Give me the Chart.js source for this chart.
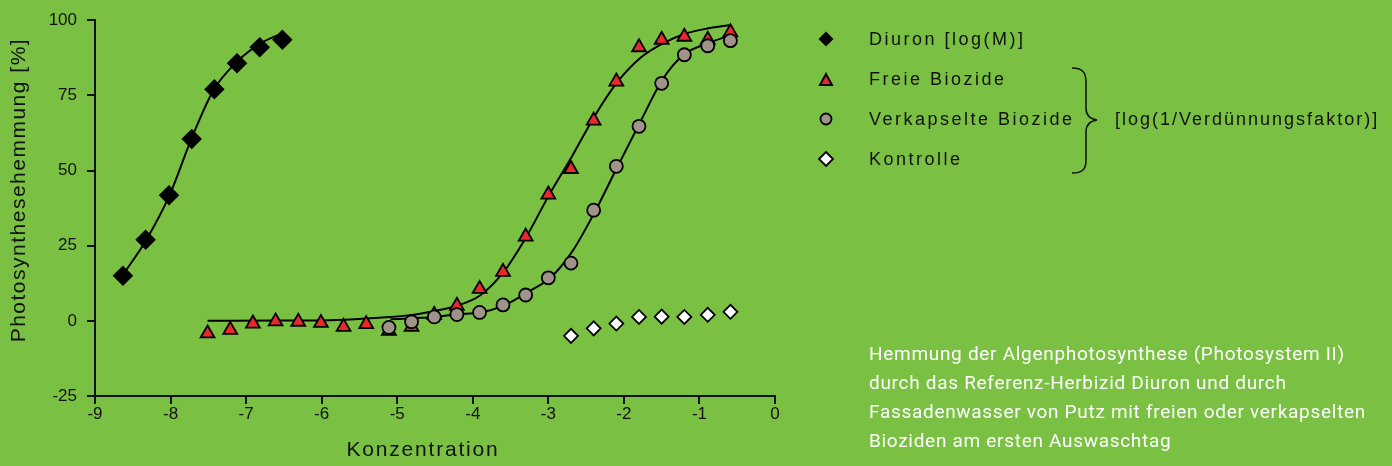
<!DOCTYPE html>
<html><head><meta charset="utf-8">
<script src="https://cdn.jsdelivr.net/npm/chart.js@4/dist/chart.umd.min.js"></script>
<style>
html,body{margin:0;padding:0;background:#7ac143;width:1392px;height:466px;overflow:hidden;}
#wrap{position:relative;width:1392px;height:466px;}
#c{position:absolute;left:0;top:0;}
.lg{position:absolute;left:869px;font-family:"Liberation Sans",Arial,sans-serif;font-size:18px;letter-spacing:2.5px;color:#111;line-height:20px;white-space:nowrap;}
.mk{position:absolute;}
.cap{position:absolute;left:869px;font-family:Roboto,sans-serif;font-size:19px;letter-spacing:0.7px;color:#fff;line-height:29px;white-space:nowrap;}
</style></head>
<body>
<div id="wrap">
<canvas id="c" width="1392" height="466"></canvas>
<svg class="mk" style="left:816px;top:29px" width="20" height="20"><polygon points="10,2.5 17.5,10 10,17.5 2.5,10" fill="#000"/></svg>
<div class="lg" style="top:29px">Diuron [log(M)]</div>
<svg class="mk" style="left:816px;top:70px" width="20" height="20"><polygon points="10,4 16,15 4,15" fill="#e8282b" stroke="#000" stroke-width="2" stroke-linejoin="miter"/></svg>
<div class="lg" style="top:69px">Freie Biozide</div>
<svg class="mk" style="left:816px;top:109px" width="20" height="20"><circle cx="10" cy="10" r="5.5" fill="#a0948a" stroke="#000" stroke-width="1.8"/></svg>
<div class="lg" style="top:109px">Verkapselte Biozide</div>
<svg class="mk" style="left:816px;top:149px" width="20" height="20"><polygon points="10,3 17,10 10,17 3,10" fill="#fff" stroke="#000" stroke-width="1.8"/></svg>
<div class="lg" style="top:149px">Kontrolle</div>
<svg class="mk" style="left:1066px;top:64px" width="40" height="114"><path d="M6,4 C16,4 20,8 20,18 L20,44 C20,52 24,55 31,56 C24,57 20,60 20,68 L20,96 C20,106 16,109 6,109" fill="none" stroke="#111" stroke-width="1.5"/></svg>
<div class="lg" style="left:1115px;top:109px;letter-spacing:2px">[log(1/Verdünnungsfaktor)]</div>
<div class="cap" style="top:339px">Hemmung der Algenphotosynthese (Photosystem II)</div>
<div class="cap" style="top:368px">durch das Referenz-Herbizid Diuron und durch</div>
<div class="cap" style="top:397px">Fassadenwasser von Putz mit freien oder verkapselten</div>
<div class="cap" style="top:426px">Bioziden am ersten Auswaschtag</div>
</div>
<script>
// ---- data ----
const xTicks = [-9, -8, -7, -6, -5, -4, -3, -2, -1, 0];
const yTicks = [-25, 0, 25, 50, 75, 100];

const diuronX = [-8.63, -8.33, -8.02, -7.72, -7.42, -7.12, -6.82, -6.52];
const diuronY = [15, 27, 41.8, 60.5, 77, 85.7, 91, 93.5];

const freieX = [-7.51, -7.21, -6.91, -6.61, -6.31, -6.01, -5.71, -5.41, -5.11, -4.81, -4.51, -4.21, -3.91, -3.60, -3.30, -3.00, -2.70, -2.40, -2.10, -1.80, -1.50, -1.20, -0.89, -0.59];
const freieY = [-4.2, -3, -0.9, -0.2, -0.3, -0.7, -2, -1.1, -3.3, -2, 2, 5, 10.6, 16.3, 28, 42, 50.5, 66.6, 79.6, 91, 93.5, 94.5, 93.5, 96];

const verkX = [-5.11, -4.81, -4.51, -4.21, -3.91, -3.60, -3.30, -3.00, -2.70, -2.40, -2.10, -1.80, -1.50, -1.20, -0.89, -0.59];
const verkY = [-2.2, -0.3, 1.3, 2.1, 2.8, 5.3, 8.6, 14.3, 19.2, 36.8, 51.4, 64.7, 79, 88.5, 91.5, 93.2];

const kontrX = [-2.70, -2.40, -2.10, -1.80, -1.50, -1.20, -0.89, -0.59];
const kontrY = [-5, -2.5, -0.9, 1.3, 1.4, 1.3, 2, 3];

// fitted curves
const diuronCurveX = [-8.63, -8.32, -8.01, -7.72, -7.43, -7.12, -6.81, -6.51];
const diuronCurveY = [15.3, 27, 42, 60.8, 76.8, 86.2, 92.3, 95.8];

const freieCurveX = [-7.51, -6.5, -5.89, -5.40, -4.83, -4.50, -4.21, -3.90, -3.60, -3.29, -3.00, -2.68, -2.39, -2.09, -1.78, -1.49, -1.19, -0.88, -0.59];
const freieCurveY = [0, 0.1, 0.2, 0.8, 1.9, 3.3, 5, 8.5, 16, 28, 41.4, 55, 68, 79.3, 87.5, 92.2, 95.5, 97.3, 98.4];

const verkCurveX = [-5.09, -4.79, -4.50, -4.21, -3.90, -3.60, -3.24, -2.97, -2.68, -2.40, -2.09, -1.78, -1.49, -1.21, -0.89, -0.59];
const verkCurveY = [0.5, 0.9, 1.3, 2.2, 2.8, 5, 10, 14.4, 23.2, 35.5, 51, 66.3, 80.2, 88.5, 92.3, 95];

const xy = (xs, ys) => xs.map((x, i) => ({x, y: ys[i]}));

const pointSet = (label, xs, ys, style, radius, fill, order) => ({
  label, data: xy(xs, ys), showLine: false, pointStyle: style, pointRadius: radius,
  pointHoverRadius: radius, backgroundColor: fill, borderColor: '#000', pointBorderWidth: 1.8, order
});
const curveSet = (label, xs, ys) => ({
  label, data: xy(xs, ys), showLine: true, pointRadius: 0, borderColor: '#000', borderWidth: 2,
  cubicInterpolationMode: 'monotone', fill: false, order: 10
});

const titleTweak = {
  id: 'titleTweak',
  beforeDraw(chart) {
    const cfg = {x: [-12, 0, '1.8px'], y: [0, -18, '1.5px']};
    for (const id of Object.keys(cfg)) {
      const s = chart.scales[id];
      if (s && !s._tw) {
        const orig = s.drawTitle;
        const [dx, dy, ls] = cfg[id];
        s.drawTitle = function () {
          const c = this.ctx; c.save(); c.translate(dx, dy);
          try { c.letterSpacing = ls; } catch (e) {}
          orig.call(this); c.restore();
        };
        s._tw = true;
      }
    }
  }
};

Chart.defaults.font.family = '"Liberation Sans", Arial, sans-serif';
Chart.defaults.font.size = 17;
Chart.defaults.color = '#111';

new Chart(document.getElementById('c'), {
  type: 'scatter',
  data: {
    datasets: [
      pointSet('Kontrolle', kontrX, kontrY, 'rectRot', 7, '#ffffff', 1),
      pointSet('Verkapselte Biozide', verkX, verkY, 'circle', 6.5, '#a0948a', 2),
      pointSet('Freie Biozide', freieX, freieY, 'triangle', 8, '#e8282b', 3),
      pointSet('Diuron [log(M)]', diuronX, diuronY, 'rectRot', 9, '#000000', 4),
      curveSet('Fit Diuron', diuronCurveX, diuronCurveY),
      curveSet('Fit Freie', freieCurveX, freieCurveY),
      curveSet('Fit Verkapselt', verkCurveX, verkCurveY)
    ]
  },
  options: {
    responsive: false,
    devicePixelRatio: 1,
    animation: false,
    layout: {padding: {left: 0, top: 19, right: 617, bottom: 0}},
    plugins: {legend: {display: false}, tooltip: {enabled: false}},
    scales: {
      x: {
        type: 'linear', min: -9, max: 0,
        afterBuildTicks: (s) => { s.ticks = xTicks.map(v => ({value: v})); },
        afterFit: (s) => { s.height = 70; },
        ticks: {color: '#111', font: {size: 17}, padding: 0, callback: v => String(v)},
        grid: {drawOnChartArea: false, drawTicks: true, tickLength: 8, color: '#111', lineWidth: 2},
        border: {display: true, color: '#111', width: 2},
        title: {display: true, text: 'Konzentration', color: '#111', font: {size: 21}, padding: {top: 0, bottom: 3}}
      },
      y: {
        type: 'linear', min: -25, max: 100,
        afterBuildTicks: (s) => { s.ticks = yTicks.map(v => ({value: v})); },
        afterFit: (s) => { s.width = 95; },
        ticks: {color: '#111', font: {size: 17}, padding: 10, callback: v => String(v)},
        grid: {drawOnChartArea: false, drawTicks: true, tickLength: 8, color: '#111', lineWidth: 2},
        border: {display: true, color: '#111', width: 2},
        title: {display: true, text: 'Photosynthesehemmung [%]', color: '#111', font: {size: 21}, padding: {top: 7, bottom: 0}}
      }
    }
  },
  plugins: [titleTweak]
});
</script>
</body></html>
